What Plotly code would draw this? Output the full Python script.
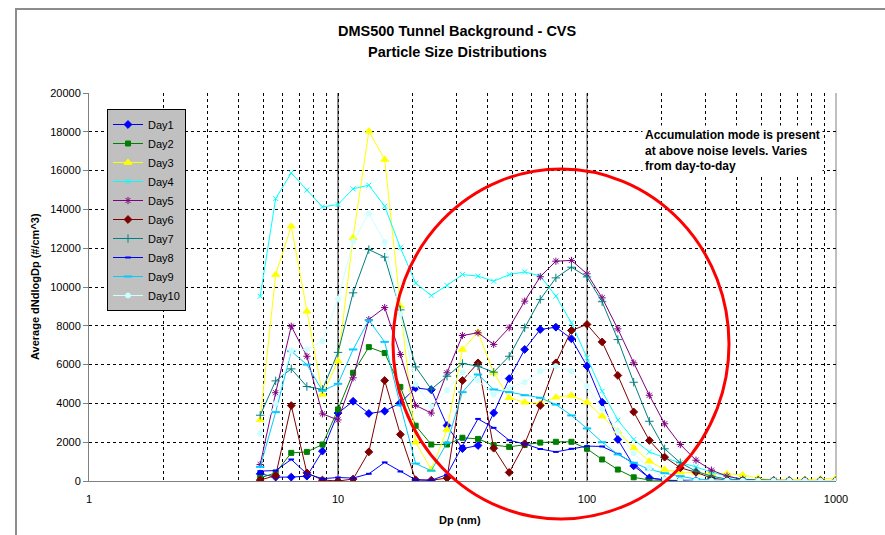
import plotly.graph_objects as go

# Particle diameters (nm), DMS500 channels
dp_nm = [4.87, 5.62, 6.49, 7.50, 8.66, 10.0, 11.5, 13.3, 15.4, 17.8,
         20.5, 23.7, 27.4, 31.6, 36.5, 42.2, 48.7, 56.2, 64.9, 75.0,
         86.6, 100.0, 115.0, 133.0, 154.0, 178.0, 205.0, 237.0, 274.0, 316.0,
         365.0, 422.0, 487.0, 562.0, 649.0, 750.0, 866.0, 1000.0]

day1 = [370, 200, 200, 250, 1540, 3500, 4110, 3480, 3600, 4030,
        4800, 4700, 2860, 1670, 1830, 3510, 5280, 6780, 7810, 7930,
        7330, 5920, 4060, 2140, 780, 160, 60, 40, 20, 20,
        20, 20, 20, 20, 20, 20, 20, 20]
day2 = [160, 420, 1450, 1500, 1880, 3690, 5580, 6900, 6600, 4850,
        2850, 1880, 1880, 2230, 2170, 1850, 1760, 1860, 1980, 2020,
        2020, 1660, 1110, 590, 190, 50, 20, 10, 10, 10,
        10, 10, 10, 10, 10, 10, 10, 10]
day3 = [3150, 10640, 13130, 8750, 4460, 6180, 12540, 18030, 16570, 9010,
        2000, 590, 2650, 6780, 7670, 5580, 4290, 4060, 4000, 4320,
        4410, 4060, 3340, 2570, 1710, 1020, 590, 460, 420, 400,
        370, 310, 150, 60, 60, 80, 100, 150]
day4 = [9520, 14560, 15880, 14990, 14130, 14250, 15060, 15250, 14160, 12030,
        10200, 9560, 10080, 10640, 10560, 10300, 10640, 10780, 10560, 9530,
        8150, 6350, 4630, 3140, 2140, 1500, 1200, 940, 730, 450,
        250, 100, 50, 30, 20, 20, 20, 20]
day5 = [850, 4550, 7980, 6430, 3460, 3150, 5320, 8320, 8940, 6520,
        3900, 3500, 5580, 7500, 7640, 7040, 7900, 9270, 10530, 11330,
        11370, 10680, 9440, 7840, 6090, 4420, 2950, 1880, 1070, 560,
        250, 80, 50, 30, 20, 20, 20, 20]
day6 = [50, 280, 3890, 420, 50, 0, 100, 1500, 5180, 2400,
        60, 40, 150, 5180, 6090, 1690, 440, 1920, 3890, 6090,
        7760, 8070, 7170, 5440, 3560, 2090, 1230, 680, 450, 150,
        50, 30, 20, 20, 20, 20, 20, 20]
day7 = [3390, 5160, 5780, 4870, 4720, 6630, 9700, 11930, 11540, 8820,
        5880, 4730, 5400, 6060, 5920, 5610, 6430, 7900, 9360, 10470,
        11020, 10520, 9240, 7290, 5090, 3080, 1660, 940, 500, 250,
        100, 60, 40, 30, 20, 20, 20, 20]
day8 = [510, 540, 1110, 370, 120, 180, 150, 370, 960, 490,
        60, 40, 330, 1800, 3200, 2740, 2100, 1910, 1650, 1500,
        1660, 1800, 1780, 1400, 900, 160, 50, 30, 20, 20,
        20, 20, 20, 20, 20, 20, 20, 20]
day9 = [730, 3550, 6690, 6000, 4650, 5010, 6780, 8290, 7170, 3900,
        900, 530, 1970, 4580, 5490, 4720, 4580, 4420, 4290, 3940,
        3380, 2710, 2000, 1370, 940, 600, 400, 250, 100, 60,
        40, 30, 20, 20, 20, 20, 20, 20]
day10 = [2450, 4000, 6740, 6780, 7210, 9390, 12360, 13790, 12320, 8600,
         4970, 3860, 4680, 5600, 5200, 4460, 4800, 5090, 5660, 5920,
         5660, 4890, 3720, 2570, 1420, 680, 100, 50, 30, 20,
         20, 20, 20, 20, 20, 20, 20, 20]

series_names = ["Day1", "Day2", "Day3", "Day4", "Day5",
                "Day6", "Day7", "Day8", "Day9", "Day10"]
series_values = [day1, day2, day3, day4, day5, day6, day7, day8, day9, day10]
series_colors = ["#0000FF", "#008000", "#FFFF00", "#00FFFF", "#800080",
                 "#800000", "#008080", "#0000FF", "#00CCFF", "#CCFFFF"]
series_symbols = ["diamond", "square", "triangle-up", "x-thin-open", "asterisk-open",
                  "diamond", "cross-thin-open", "line-ew-open", "line-ew-open", "circle"]
series_msize = [6, 5, 7, 5, 6, 6, 6, 4, 6, 5]

x_tickvals = [1, 2, 3, 4, 5, 6, 7, 8, 9,
              10, 20, 30, 40, 50, 60, 70, 80, 90,
              100, 200, 300, 400, 500, 600, 700, 800, 900, 1000]
x_ticktext = ["1", "", "", "", "", "", "", "", "",
              "10", "", "", "", "", "", "", "", "",
              "100", "", "", "", "", "", "", "", "", "1000"]

title_line1 = "DMS500 Tunnel Background - CVS"
title_line2 = "Particle Size Distributions"
note_text = "Accumulation mode is present<br>at above noise levels. Varies<br>from day-to-day"

FONT = "Liberation Sans, Arial, sans-serif"

fig = go.Figure()
for name, vals, col, sym, ms in zip(series_names, series_values, series_colors,
                                    series_symbols, series_msize):
    marker = dict(symbol=sym, size=ms, color=col, line=dict(color=col, width=1))
    if sym.startswith("line"):
        marker["line"]["width"] = 2
    fig.add_trace(go.Scatter(x=dp_nm, y=vals, name=name, mode="lines+markers",
                             line=dict(color=col, width=1), marker=marker))

W, H = 885, 535
L, R, T, B = 89, 49, 93, 54
pw, ph = W - L - R, H - T - B

def px_x(p):
    return (p - L) / pw

def px_y(p):
    return (H - B - p) / ph

shapes = [
    # decade gridlines (solid)
    dict(type="line", xref="paper", yref="paper", x0=1/3, x1=1/3, y0=0, y1=1,
         line=dict(color="#202020", width=1), layer="below"),
    dict(type="line", xref="paper", yref="paper", x0=2/3, x1=2/3, y0=0, y1=1,
         line=dict(color="#505050", width=1), layer="below"),
    dict(type="line", xref="paper", yref="paper", x0=1, x1=1, y0=0, y1=1,
         line=dict(color="#808080", width=1), layer="below"),
    # outer chart frame
    dict(type="rect", xref="paper", yref="paper", x0=px_x(16), x1=px_x(900),
         y0=px_y(560), y1=px_y(9), line=dict(color="#8C8C8C", width=2)),
    # red highlight circle
    dict(type="circle", xref="paper", yref="paper", x0=px_x(393), x1=px_x(729),
         y0=px_y(519), y1=px_y(169), line=dict(color="#FF0000", width=3), layer="above"),
]

annotations = [
    dict(text="<b>" + title_line1 + "</b>", xref="paper", yref="paper",
         x=px_x(457), y=px_y(31), showarrow=False, xanchor="center", yanchor="middle",
         font=dict(family=FONT, size=14.5, color="black")),
    dict(text="<b>" + title_line2 + "</b>", xref="paper", yref="paper",
         x=px_x(457), y=px_y(52), showarrow=False, xanchor="center", yanchor="middle",
         font=dict(family=FONT, size=14.5, color="black")),
    dict(text="<b>Average dNdlogDp (#/cm^3)</b>", xref="paper", yref="paper",
         x=px_x(35), y=0.5, textangle=-90, showarrow=False, xanchor="center", yanchor="middle",
         font=dict(family=FONT, size=11, color="black")),
    dict(text="<b>Dp (nm)</b>", xref="paper", yref="paper",
         x=px_x(460), y=px_y(520), showarrow=False, xanchor="center", yanchor="middle",
         font=dict(family=FONT, size=11, color="black")),
    dict(text="<b>" + note_text + "</b>", xref="paper", yref="paper",
         x=px_x(642), y=px_y(125), showarrow=False, xanchor="left", yanchor="top",
         align="left", bgcolor="white", borderpad=2,
         font=dict(family=FONT, size=12, color="black")),
]

fig.update_layout(
    width=W, height=H,
    margin=dict(l=L, r=R, t=T, b=B, pad=0),
    paper_bgcolor="white", plot_bgcolor="white",
    font=dict(family=FONT, size=11, color="black"),
    showlegend=True,
    legend=dict(x=px_x(107), y=px_y(109), xanchor="left", yanchor="top",
                bgcolor="#C0C0C0", bordercolor="#000000", borderwidth=1,
                font=dict(family=FONT, size=11, color="black"),
                itemwidth=30, tracegroupgap=0),
    xaxis=dict(type="log", range=[0, 3], tickmode="array",
               tickvals=x_tickvals, ticktext=x_ticktext,
               showgrid=True, gridcolor="#000000", gridwidth=1, griddash="3px,3px",
               showline=True, linecolor="#808080", linewidth=1,
               ticks="", ticklabelstandoff=8, zeroline=False,
               tickfont=dict(family=FONT, size=11, color="black")),
    yaxis=dict(range=[0, 20000], tickmode="linear", tick0=0, dtick=2000, tickformat="d",
               showgrid=True, gridcolor="#000000", gridwidth=1, griddash="3px,3px",
               showline=True, linecolor="#808080", linewidth=1,
               ticks="outside", ticklen=5, tickcolor="#808080", zeroline=False,
               tickfont=dict(family=FONT, size=11, color="black")),
    shapes=shapes,
    annotations=annotations,
)

fig.write_html("out.html")
